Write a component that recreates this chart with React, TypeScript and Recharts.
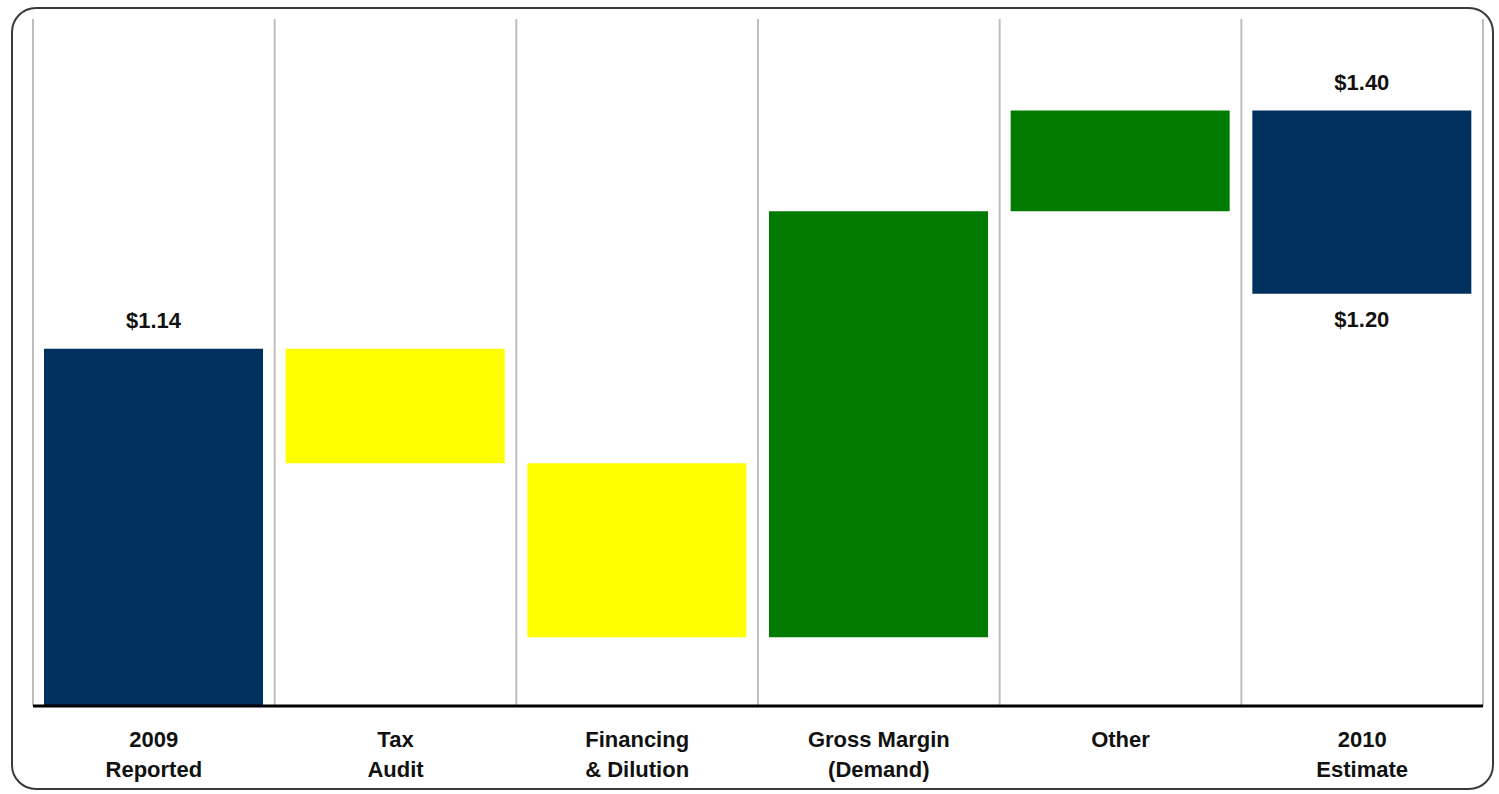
import React from 'react';
import { BarChart, Bar, XAxis, YAxis, Cell, LabelList, ReferenceLine, CartesianGrid } from 'recharts';

// categories, two lines each
const categories = [
  ['2009', 'Reported'],
  ['Tax', 'Audit'],
  ['Financing', '& Dilution'],
  ['Gross Margin', '(Demand)'],
  ['Other'],
  ['2010', 'Estimate'],
];

// bottom and top of each floating bar ($ EPS)
const lowValues = [0, 1.015, 0.825, 0.825, 1.29, 1.2];
const highValues = [1.14, 1.14, 1.015, 1.29, 1.4, 1.4];
const barKinds = ['total', 'decrease', 'decrease', 'increase', 'increase', 'total'];

const topLabels = ['$1.14', '', '', '', '', '$1.40'];
const bottomLabels = ['', '', '', '', '', '$1.20'];

const kindColors: Record<string, string> = {
  total: '#00305E',
  decrease: '#FFFF00',
  increase: '#007A00',
};

const FONT = '"Liberation Sans", Arial, sans-serif';

const rows = categories.map((c, i) => ({
  name: c.join(' '),
  range: [lowValues[i], highValues[i]],
}));

// grid lines sit on the category band edges, not the centres
const bandEdges = (props: any) => {
  const { offset } = props;
  const step = offset.width / rows.length;
  return rows.map((_, i) => offset.left + i * step).concat(offset.left + offset.width);
};

const CategoryTick = (props: any) => {
  const { x, y, payload } = props;
  const lines = categories[payload.index] || [];
  return (
    <text x={x} y={y + 41} textAnchor="middle" fontFamily={FONT} fontWeight="bold" fontSize={22} fill="#111">
      {lines.map((l, i) => (
        <tspan key={i} x={x} dy={i === 0 ? 0 : 30}>
          {l}
        </tspan>
      ))}
    </text>
  );
};

const ValueLabel = (props: any) => {
  const { x, y, width, height, index } = props;
  const top = Math.min(y, y + height);
  const bottom = Math.max(y, y + height);
  const cx = x + width / 2;
  return (
    <g>
      {topLabels[index] ? (
        <text x={cx} y={top - 21} textAnchor="middle" fontFamily={FONT} fontWeight="bold" fontSize={22} fill="#111">
          {topLabels[index]}
        </text>
      ) : null}
      {bottomLabels[index] ? (
        <text x={cx} y={bottom + 33} textAnchor="middle" fontFamily={FONT} fontWeight="bold" fontSize={22} fill="#111">
          {bottomLabels[index]}
        </text>
      ) : null}
    </g>
  );
};

export default function App() {
  return (
    <div style={{ position: 'absolute', left: 0, top: 0, width: 1499, height: 794, background: '#fff' }}>
      <div
        style={{
          position: 'absolute',
          left: 11,
          top: 7,
          width: 1483,
          height: 783,
          border: '2px solid #3a3a3a',
          borderRadius: 25,
          boxSizing: 'border-box',
        }}
      />
      <div style={{ position: 'absolute', left: 0, top: 0 }}>
        <BarChart width={1499} height={794} data={rows} margin={{ top: 19, right: 16, left: 33, bottom: 8 }}>
          <CartesianGrid
            horizontal={false}
            vertical
            stroke="#BDBDBD"
            strokeWidth={2}
            verticalCoordinatesGenerator={bandEdges}
          />
          <XAxis
            dataKey="name"
            height={80}
            interval={0}
            tickLine={false}
            tickSize={0}
            tickMargin={0}
            tick={<CategoryTick />}
            axisLine={false}
          />
          <YAxis hide domain={[0.75, 1.5]} allowDataOverflow />
          <Bar dataKey="range" barSize={219} isAnimationActive={false}>
            {rows.map((_, i) => (
              <Cell key={i} fill={kindColors[barKinds[i]]} />
            ))}
            <LabelList dataKey="range" content={<ValueLabel />} />
          </Bar>
          <ReferenceLine y={0.75} stroke="#000" strokeWidth={3} />
        </BarChart>
      </div>
    </div>
  );
}
